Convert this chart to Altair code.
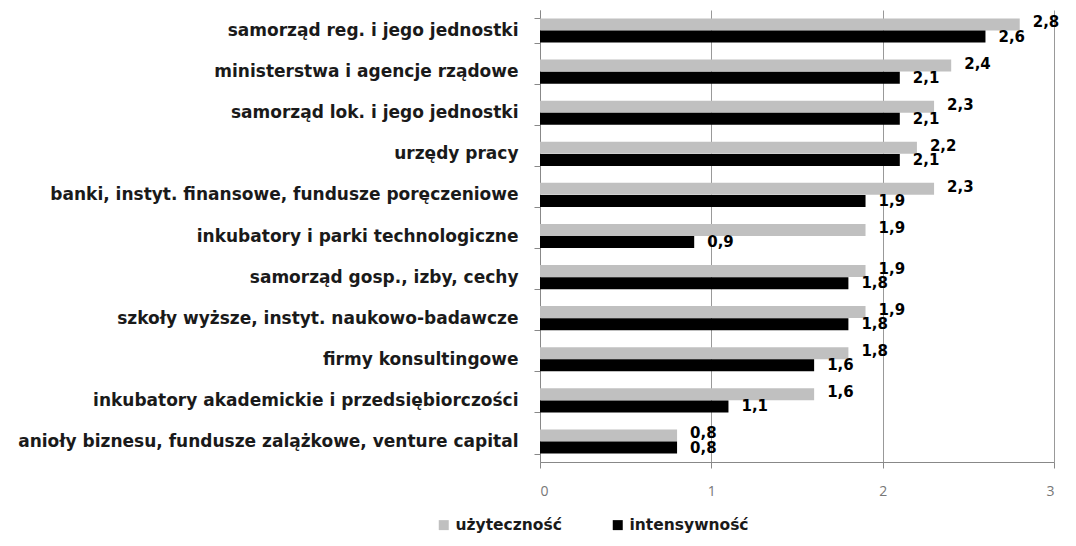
import altair as alt
import pandas as pd

categories = [
    "samorząd reg. i jego jednostki",
    "ministerstwa i agencje rządowe",
    "samorząd lok. i jego jednostki",
    "urzędy pracy",
    "banki, instyt. finansowe, fundusze poręczeniowe ",
    "inkubatory i parki technologiczne",
    "samorząd gosp., izby, cechy",
    "szkoły wyższe, instyt. naukowo-badawcze",
    "firmy konsultingowe",
    "inkubatory akademickie i przedsiębiorczości",
    "anioły biznesu, fundusze zalążkowe, venture capital",
]
series_names = ["użyteczność", "intensywność"]
uzytecznosc = [2.8, 2.4, 2.3, 2.2, 2.3, 1.9, 1.9, 1.9, 1.8, 1.6, 0.8]
intensywnosc = [2.6, 2.1, 2.1, 2.1, 1.9, 0.9, 1.8, 1.8, 1.6, 1.1, 0.8]
colors = ["#C0C0C0", "#000000"]
x_ticks = [0, 1, 2, 3]

rows = []
for c, u, i in zip(categories, uzytecznosc, intensywnosc):
    rows.append({"kategoria": c, "seria": series_names[0], "wartosc": u})
    rows.append({"kategoria": c, "seria": series_names[1], "wartosc": i})
df = pd.DataFrame(rows)
df["etykieta"] = df["wartosc"].map(lambda v: f"{v:.1f}".replace(".", ","))

FONT = "DejaVu Sans"
FONT_TICK = "Open Sans"

y = alt.Y(
    "kategoria:N", sort=categories, title=None,
    scale=alt.Scale(paddingInner=0.41, paddingOuter=0.205),
    axis=alt.Axis(labelFont=FONT, labelFontSize=17, labelFontWeight="bold", labelColor="#1a1a1a",
                  labelLimit=600, tickBand="extent", tickSize=6, tickColor="#888888",
                  domainColor="#888888", labelPadding=16, minExtent=527, maxExtent=527, grid=False),
)
yoff = alt.YOffset("seria:N", sort=series_names, scale=alt.Scale(paddingInner=0, paddingOuter=0))
x = alt.X(
    "wartosc:Q", scale=alt.Scale(domain=[0, 3]), title=None,
    axis=alt.Axis(values=x_ticks, format="d", grid=True, gridColor="#999999", tickSize=6,
                  labelPadding=16, labelFont=FONT_TICK, labelFontSize=14, labelColor="#777777",
                  domainColor="#888888", tickColor="#888888"),
)
color = alt.Color(
    "seria:N", sort=series_names,
    scale=alt.Scale(domain=series_names, range=colors),
    legend=alt.Legend(title=None, orient="none", legendX=-104, legendY=507, direction="horizontal",
                      symbolType="square", symbolSize=100, symbolStrokeWidth=0,
                      labelFont=FONT, labelFontSize=15.5, labelFontWeight="bold", labelColor="#1a1a1a",
                      columnPadding=48),
)

bars = alt.Chart(df).mark_bar(size=12).encode(y=y, yOffset=yoff, x=x, color=color)
y_plain = alt.Y("kategoria:N", sort=categories)
label_props = dict(align="left", baseline="middle", dx=13, font=FONT, fontSize=15,
                   fontWeight="bold", color="#000000")
labels_u = alt.Chart(df).transform_filter(
    alt.datum.seria == series_names[0]
).mark_text(dy=-2, **label_props).encode(y=y_plain, yOffset=yoff, x="wartosc:Q", text="etykieta:N")
labels_i = alt.Chart(df).transform_filter(
    alt.datum.seria == series_names[1]
).mark_text(dy=0, **label_props).encode(y=y_plain, yOffset=yoff, x="wartosc:Q", text="etykieta:N")

chart = (
    alt.layer(bars, labels_u, labels_i)
    .properties(width=514, height=452, padding={"left": 5, "top": -7, "right": 5, "bottom": 5})
    .configure_view(strokeWidth=0)
)

chart.save("out.html", embed_options={"renderer": "svg", "actions": False})
